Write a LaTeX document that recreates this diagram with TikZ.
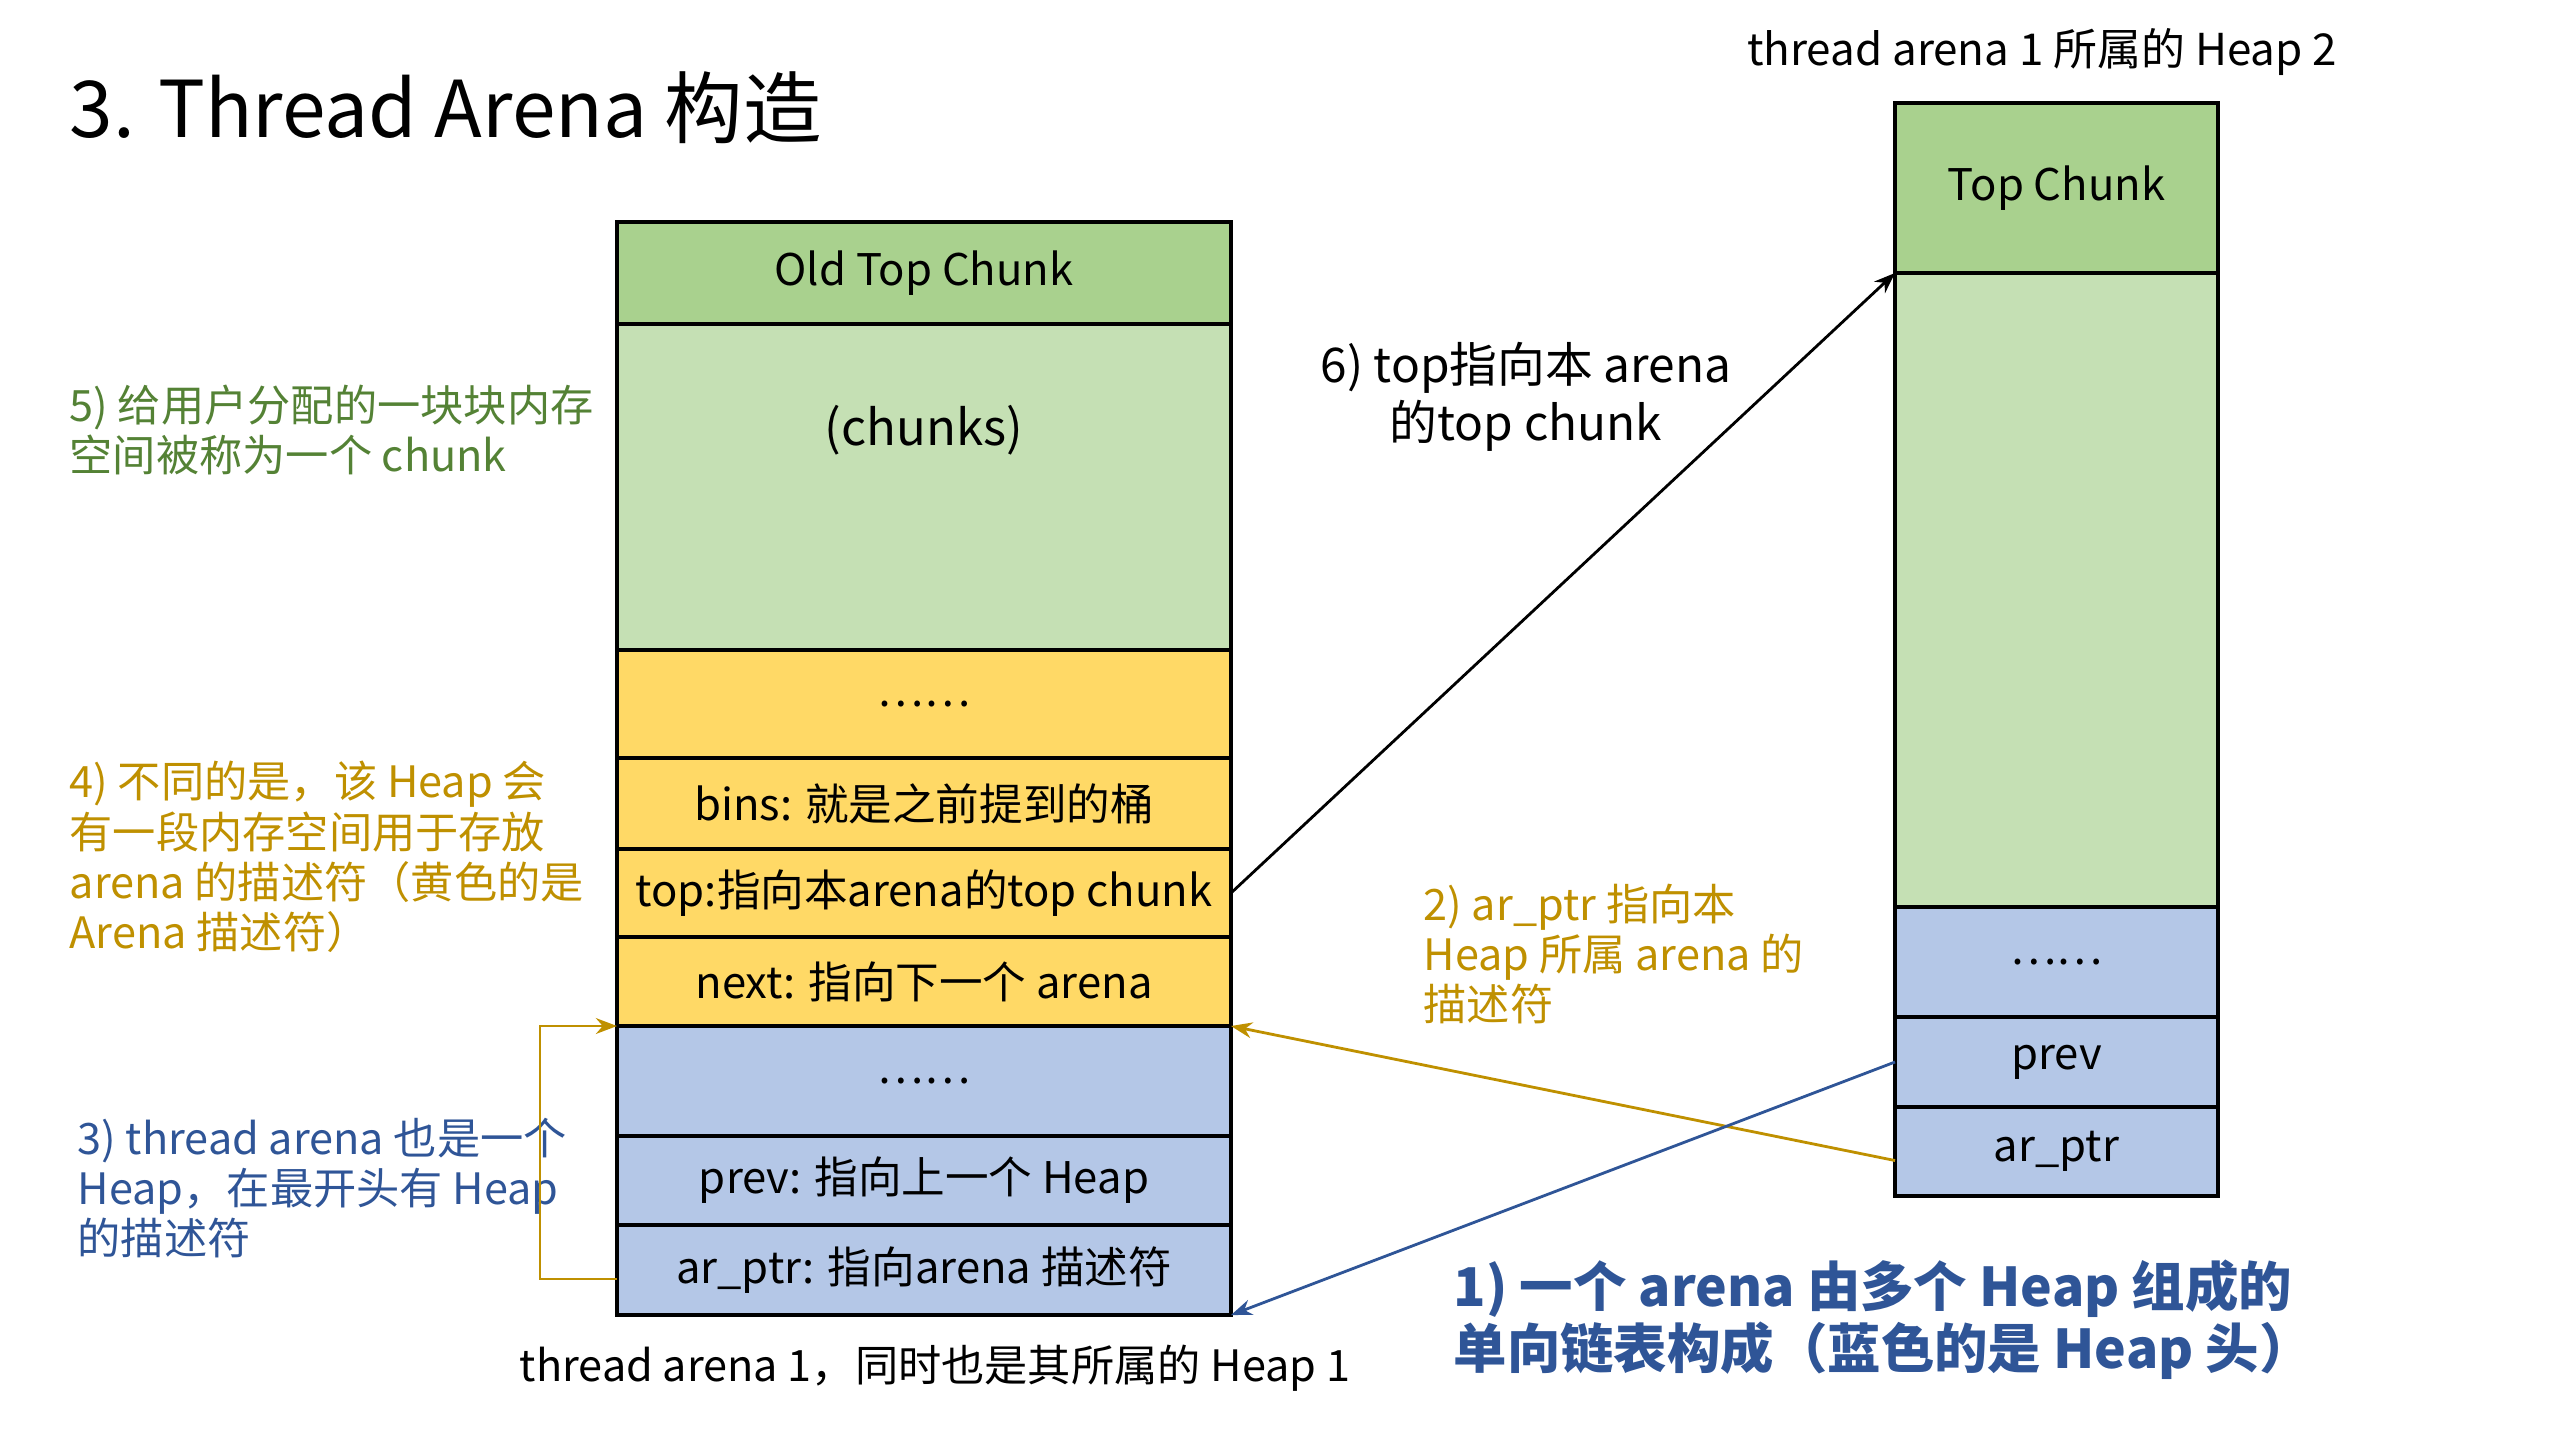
\documentclass[tikz,border=0pt]{standalone}
\usepackage{fontspec}
\setmainfont{Noto Sans CJK SC}
\definecolor{topgreen}{HTML}{A9D18E}
\definecolor{chunkgreen}{HTML}{C5E0B4}
\definecolor{arenayellow}{HTML}{FFD966}
\definecolor{heapblue}{HTML}{B4C7E7}
\definecolor{notegreen}{HTML}{548235}
\definecolor{noteyellow}{HTML}{BF9000}
\definecolor{noteblue}{HTML}{2F5597}
\usetikzlibrary{arrows.meta,positioning,calc}

\begin{document}
\begin{tikzpicture}[
    rowbox/.style={rectangle, draw=black, line width=0.9pt, outer sep=0pt,
                   inner sep=0pt, minimum width=6.14cm, align=center,
                   font=\fontsize{12.4}{14.5}\selectfont},
    heaprow/.style={rowbox, minimum width=3.23cm},
    note/.style={align=left, anchor=west, inner sep=0pt,
                 font=\fontsize{12.3}{14.3}\selectfont},
    arr/.style={-{Stealth[length=6pt, width=4.5pt]}, line width=0.8pt}
  ]
    \useasboundingbox (0,0) rectangle (25.59,-14.39);

    % Title
    \node[anchor=west, inner sep=0pt, font=\fontsize{22.3}{26}\selectfont] (title) at (0.69,-1.08)
      {3. Thread Arena 构造};

    % Heap 1 = thread arena 1
    \node[rowbox, fill=topgreen, minimum height=1.02cm, anchor=north] (aold) at (9.24,-2.22) {Old Top Chunk};
    \node[rowbox, fill=chunkgreen, minimum height=3.26cm, below=0pt of aold] (achunks) {};
    \node[rowbox, fill=arenayellow, minimum height=1.08cm, below=0pt of achunks] (aydots) {……};
    \node[rowbox, fill=arenayellow, minimum height=0.91cm, below=0pt of aydots] (abins) {bins: 就是之前提到的桶};
    \node[rowbox, fill=arenayellow, minimum height=0.88cm, below=0pt of abins] (atop) {top:指向本arena的top chunk};
    \node[rowbox, fill=arenayellow, minimum height=0.89cm, below=0pt of atop] (anext) {next: 指向下一个 arena};
    \node[rowbox, fill=heapblue, minimum height=1.10cm, below=0pt of anext] (abdots) {……};
    \node[rowbox, fill=heapblue, minimum height=0.89cm, below=0pt of abdots] (aprev) {prev: 指向上一个 Heap};
    \node[rowbox, fill=heapblue, minimum height=0.90cm, below=0pt of aprev] (aptr) {ar\_ptr: 指向arena 描述符};
    \node[font=\fontsize{14}{16}\selectfont] (chunkslbl) at ([yshift=-1.06cm]achunks.north) {(chunks)};

    % Heap 2
    \node[heaprow, fill=topgreen, minimum height=1.70cm, anchor=north] (htop) at (20.565,-1.03) {Top Chunk};
    \node[heaprow, fill=chunkgreen, minimum height=6.34cm, below=0pt of htop] (hbody) {};
    \node[heaprow, fill=heapblue, minimum height=1.10cm, below=0pt of hbody] (hdots) {……};
    \node[heaprow, fill=heapblue, minimum height=0.90cm, below=0pt of hdots] (hprev) {prev};
    \node[heaprow, fill=heapblue, minimum height=0.89cm, below=0pt of hprev] (hptr) {ar\_ptr};

    % Captions
    \node[font=\fontsize{12.5}{14.5}\selectfont] (heaptwo) at (20.42,-0.52) {thread arena 1 所属的 Heap 2};
    \node[font=\fontsize{12.3}{14.3}\selectfont] (heapone) at (9.35,-13.68) {thread arena 1，同时也是其所属的 Heap 1};

    % Notes
    \node[note, notegreen] (nchunk) at (0.69,-4.30) {5) 给用户分配的一块块内存\\空间被称为一个 chunk};
    \node[note, noteyellow] (nbins) at (0.69,-8.57) {4) 不同的是，该 Heap 会\\有一段内存空间用于存放\\arena 的描述符（黄色的是\\Arena 描述符）};
    \node[note, noteblue] (nheap) at (0.77,-11.88) {3) thread arena 也是一个\\Heap，在最开头有 Heap\\的描述符};
    \node[note, anchor=center, align=center, font=\fontsize{13.6}{16.4}\selectfont] (ntop) at (15.26,-3.97)
      {6) top指向本 arena\\的top chunk};
    \node[note, noteyellow] (nptr) at (14.23,-9.54) {2) ar\_ptr 指向本\\Heap 所属 arena 的\\描述符};
    \node[note, noteblue, font=\fontsize{15.2}{17.6}\selectfont\bfseries] (nlist) at (14.53,-13.20)
      {1) 一个 arena 由多个 Heap 组成的\\单向链表构成（蓝色的是 Heap 头）};

    % Pointers
    \draw[arr] (atop.east) -- (hbody.north west);
    \draw[arr, noteyellow] ([yshift=-0.09cm]hptr.west) -- (abdots.north east);
    \draw[arr, noteblue] (hprev.west) -- (aptr.south east);
    \draw[arr, noteyellow] ([yshift=-0.09cm]aptr.west) -- ++(-0.77,0) |- (abdots.north west);
\end{tikzpicture}
\end{document}
